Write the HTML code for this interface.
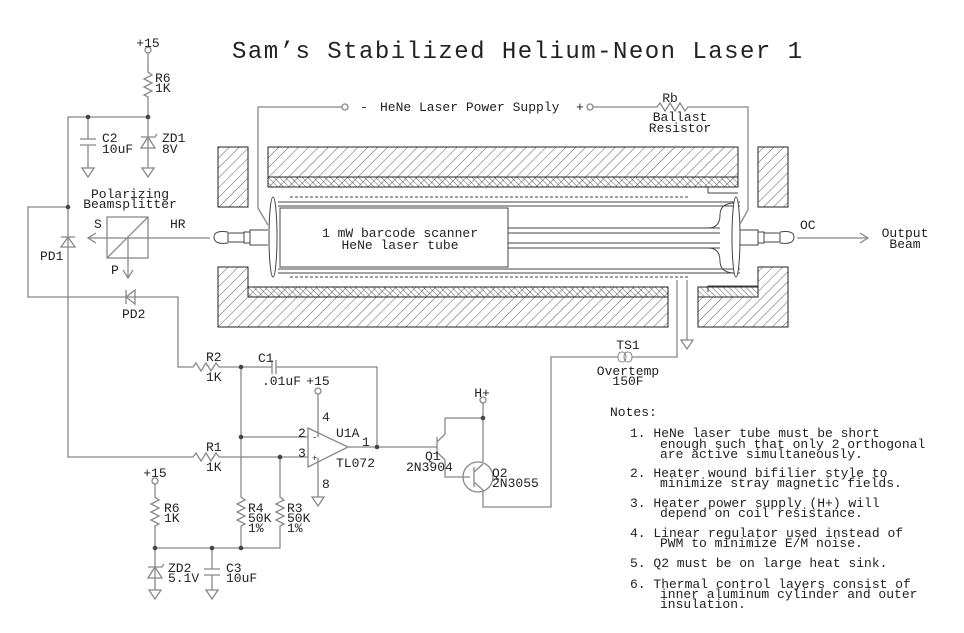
<!DOCTYPE html>
<html><head><meta charset="utf-8"><style>
html,body{margin:0;padding:0;background:#fff;}
svg{display:block;}
text{font-family:"Liberation Mono",monospace;font-size:13px;fill:#222;}
</style></head><body>
<svg width="964" height="633" viewBox="0 0 964 633" xmlns="http://www.w3.org/2000/svg">
<defs>
<pattern id="h1" width="7" height="7" patternUnits="userSpaceOnUse" patternTransform="rotate(45)">
<line x1="0" y1="0" x2="0" y2="7" stroke="#333" stroke-width="0.8"/></pattern>
<pattern id="h2" width="4" height="4" patternUnits="userSpaceOnUse" patternTransform="rotate(-45)">
<line x1="0" y1="0" x2="0" y2="4" stroke="#333" stroke-width="0.8"/></pattern>
</defs>
<text x="517" y="58" text-anchor="middle" style="font-size:24px" textLength="570">Sam’s Stabilized Helium-Neon Laser 1</text>

<g stroke="#222" stroke-width="1" fill="url(#h1)">
<rect x="218" y="147" width="30" height="60"/>
<rect x="268" y="147" width="470" height="40"/>
<rect x="758" y="147" width="30" height="60"/>
<path d="M218 267 H248 V287 H668 V327 H218 Z"/>
<path d="M698 297 H758 V267 H788 V327 H698 Z"/>
</g>
<g stroke="#222" stroke-width="1" fill="url(#h2)">
<rect x="268" y="177" width="470" height="10"/>
<rect x="248" y="287" width="420" height="10"/>
<rect x="698" y="287" width="60" height="10"/>
</g>
<g stroke="#444" fill="none" stroke-width="1">
<path d="M708 187 V193 H738"/>
<path d="M708 292 V286 H758"/>
<line x1="290" y1="197" x2="688" y2="197" stroke-dasharray="3,2"/>
<line x1="290" y1="277" x2="690" y2="277" stroke-dasharray="3,2"/>
<!-- tube -->
<path d="M278 202 H740 M278 206 H740 M278 269 H740 M278 273 H740"/>
<rect x="280" y="208" width="228" height="59"/>
<path d="M508 228 H720 M508 233 H720 M508 243 H720 M508 248 H720"/>
<path d="M708 228 Q720 228 720 215 Q720 203 735 203 M708 248 Q720 248 720 261 Q720 273 735 273"/>
<ellipse cx="273" cy="237" rx="4" ry="40" fill="#fff"/>
<ellipse cx="736" cy="237" rx="4" ry="40" fill="#fff"/>
<!-- mirror mounts -->
<path d="M268 230 H250 V245 H268 M250 232 H244 V243 H250 M244 233 H228 V242 H244 M228 232 Q214 230 214 237 Q214 245 228 243"/>
<path d="M740 230 H758 V245 H740 M758 232 H764 V243 H758 M764 233 H780 V242 H764 M780 232 Q794 230 794 237 Q794 245 780 243"/>
</g>
<text x="400" y="237" text-anchor="middle">1 mW barcode scanner</text>
<text x="400" y="249" text-anchor="middle">HeNe laser tube</text>

<g stroke="#888" stroke-width="1.3" fill="none">
<!-- power supply -->
<path d="M342 107 H258 V208 L268 225"/>
<circle cx="345" cy="107" r="3" fill="#fff"/>
<circle cx="590" cy="107" r="3" fill="#fff"/>
<path d="M593 107 H657 l3 -4 l5 8 l5 -8 l5 8 l5 -8 l5 8 l3 -4 H748 V210 L740 224"/>
<!-- output beam -->
<path d="M797 238 H868 M860 233 L868 238 L860 243"/>
<!-- HR beam -->
<path d="M210 238 H88 M96 233 L88 238 L96 243"/>
<rect x="107" y="217" width="41" height="41"/>
<path d="M107 258 L148 217 M128 238 V278 M123 270 L128 278 L133 270"/>
<!-- +15 top -->
<circle cx="148" cy="50" r="3" fill="#fff"/>
<path d="M148 53 V72 l4 3 l-8 4 l8 4 l-8 4 l8 4 l-8 4 l4 2 V117 H68 V457 H193 l3 -4 l5 8 l5 -8 l5 8 l5 -8 l3 4 H308"/>
<path d="M148 117 V168 M88 117 V139 M88 145 V168 M80 139 H96 M80 145 H96"/>
<path d="M141 148 L148 137 L155 148 Z M141 137 H155 l2 -3"/>
<path d="M82 168 H94 L88 177 Z M142 168 H154 L148 177 Z"/>
<!-- PD1 -->
<path d="M61 247 L68 237 L75 247 Z M61 237 H75"/>
<!-- PD2 loop -->
<path d="M68 207 H28 V297 H178 V367 H193 l3 -4 l5 8 l5 -8 l5 8 l5 -8 l3 4 H272 M276 367 H377 V447"/>
<path d="M135 290 L126 297 L135 304 Z M126 290 V304"/>
<path d="M272 360 V374 M276 360 V374"/>
<!-- R4 / node line -->
<path d="M241 367 V497 l4 3 l-8 4 l8 4 l-8 4 l8 4 l-8 4 l8 4 l-4 2 V548 H155"/>
<path d="M241 437 H308 M280 457 V497 l4 3 l-8 4 l8 4 l-8 4 l8 4 l-8 4 l8 4 l-4 2 V548 H241"/>
<!-- opamp -->
<path d="M308 428 L348 447 L308 467 Z M348 447 H437"/>
<circle cx="318" cy="391" r="3" fill="#fff"/>
<path d="M318 394 V437 M318 458 V497 M312 497 H324 L318 506 Z"/>
<!-- R6 lower -->
<circle cx="155" cy="481" r="3" fill="#fff"/>
<path d="M155 484 V497 l4 3 l-8 4 l8 4 l-8 4 l8 4 l-8 4 l8 4 l-4 2 V590"/>
<path d="M148 578 L155 567 L162 578 Z M148 567 H162 l2 -3"/>
<path d="M149 590 H161 L155 599 Z"/>
<path d="M212 548 V569 M212 575 V590 M204 569 H220 M204 575 H220 M206 590 H218 L212 599 Z"/>
<!-- Q1 -->
<path d="M437 437 V457 M437 442 L445 434 V418 H483 M437 452 L445 460 V477 H470"/>
<circle cx="483" cy="400" r="3" fill="#fff"/>
<path d="M483 403 V462 M474 467 V487 M474 472 L483 464 M474 482 L483 490 V507 H551 V357 H618 M632 357 H677 V280 M687 280 V340 M681 340 H693 L687 349 Z"/>
<circle cx="478" cy="477" r="15"/>
<path d="M618 357 q0 -5 4 -5 q4 0 4 5 q0 5 -4 5 q-4 0 -4 -5 M624 357 q0 -5 4 -5 q4 0 4 5 q0 5 -4 5 q-4 0 -4 -5" stroke-width="1"/>
</g>
<g fill="#444">
<circle cx="148" cy="117" r="2.3"/><circle cx="88" cy="117" r="2.3"/><circle cx="68" cy="207" r="2.3"/>
<circle cx="241" cy="367" r="2.3"/><circle cx="241" cy="437" r="2.3"/><circle cx="280" cy="457" r="2.3"/>
<circle cx="377" cy="447" r="2.3"/><circle cx="483" cy="418" r="2.3"/>
<circle cx="155" cy="548" r="2.3"/><circle cx="212" cy="548" r="2.3"/><circle cx="241" cy="548" r="2.3"/>
</g>

<text x="360" y="111">-</text>
<text x="380" y="111">HeNe Laser Power Supply</text>
<text x="576" y="111">+</text>
<text x="670" y="102" text-anchor="middle">Rb</text>
<text x="680" y="121" text-anchor="middle">Ballast</text>
<text x="680" y="132" text-anchor="middle">Resistor</text>
<text x="800" y="229">OC</text>
<text x="905" y="237" text-anchor="middle">Output</text>
<text x="905" y="248" text-anchor="middle">Beam</text>
<text x="148" y="47" text-anchor="middle">+15</text>
<text x="155" y="82">R6</text><text x="155" y="92">1K</text>
<text x="102" y="142">C2</text><text x="102" y="153">10uF</text>
<text x="162" y="142">ZD1</text><text x="162" y="153">8V</text>
<text x="130" y="198" text-anchor="middle">Polarizing</text>
<text x="130" y="208" text-anchor="middle">Beamsplitter</text>
<text x="94" y="228">S</text><text x="170" y="228">HR</text>
<text x="111" y="274">P</text>
<text x="40" y="260">PD1</text>
<text x="122" y="318">PD2</text>
<text x="206" y="361">R2</text><text x="206" y="381">1K</text>
<text x="258" y="362">C1</text><text x="262" y="385">.01uF</text>
<text x="318" y="385" text-anchor="middle">+15</text>
<text x="322" y="421">4</text><text x="322" y="488">8</text>
<text x="298" y="437">2</text><text x="298" y="457">3</text>
<text x="312" y="440" style="font-size:9px">-</text><text x="312" y="461" style="font-size:9px">+</text>
<text x="336" y="437">U1A</text><text x="336" y="467">TL072</text>
<text x="362" y="446">1</text>
<text x="206" y="451">R1</text><text x="206" y="471">1K</text>
<text x="155" y="477" text-anchor="middle">+15</text>
<text x="164" y="512">R6</text><text x="164" y="522">1K</text>
<text x="248" y="512">R4</text><text x="248" y="522">50K</text><text x="248" y="532">1%</text>
<text x="287" y="512">R3</text><text x="287" y="522">50K</text><text x="287" y="532">1%</text>
<text x="168" y="572">ZD2</text><text x="168" y="582">5.1V</text>
<text x="226" y="572">C3</text><text x="226" y="582">10uF</text>
<text x="482" y="397" text-anchor="middle">H+</text>
<text x="425" y="460">Q1</text><text x="406" y="471">2N3904</text>
<text x="492" y="477">Q2</text><text x="492" y="487">2N3055</text>
<text x="628" y="349" text-anchor="middle">TS1</text>
<text x="628" y="375" text-anchor="middle">Overtemp</text>
<text x="628" y="385" text-anchor="middle">150F</text>
<text x="610" y="416">Notes:</text>
<text x="630" y="437">1. HeNe laser tube must be short</text>
<text x="660" y="448">enough such that only 2 orthogonal</text>
<text x="660" y="458">are active simultaneously.</text>
<text x="630" y="477">2. Heater wound bifilier style to</text>
<text x="660" y="487">minimize stray magnetic fields.</text>
<text x="630" y="507">3. Heater power supply (H+) will</text>
<text x="660" y="517">depend on coil resistance.</text>
<text x="630" y="537">4. Linear regulator used instead of</text>
<text x="660" y="547">PWM to minimize E/M noise.</text>
<text x="630" y="567">5. Q2 must be on large heat sink.</text>
<text x="630" y="588">6. Thermal control layers consist of</text>
<text x="660" y="598">inner aluminum cylinder and outer</text>
<text x="660" y="608">insulation.</text>
</svg>
</body></html>
